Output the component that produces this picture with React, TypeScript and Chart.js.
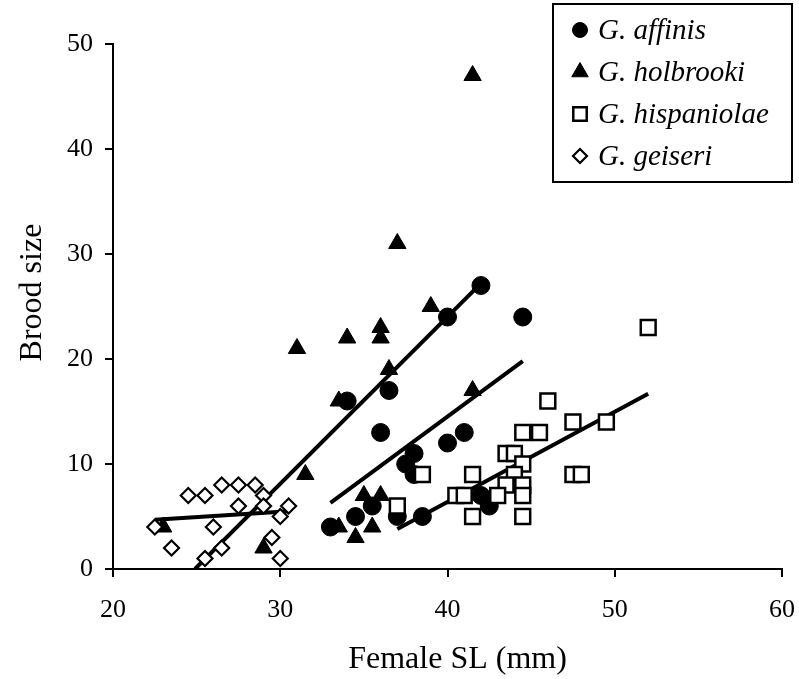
import React, { useEffect, useRef } from 'react';
import { Chart, registerables } from 'chart.js';
import { drawPoint } from 'chart.js/helpers';

Chart.register(...registerables);

// ---- Data ----
const seriesNames = ['G. affinis', 'G. holbrooki', 'G. hispaniolae', 'G. geiseri'];

const affinisSL = [42, 40, 44.5, 36.5, 34, 36, 41, 40, 38, 37.5, 38, 35.5, 34.5, 33, 37, 38.5, 42, 42.5];
const affinisBrood = [27, 24, 24, 17, 16, 13, 13, 12, 11, 10, 9, 6, 5, 4, 5, 5, 7, 6];

const holbrookiSL = [41.5, 37, 39, 36, 36, 34, 31, 36.5, 33.5, 41.5, 31.5, 35, 36, 33.5, 34.5, 35.5, 29, 23];
const holbrookiBrood = [47, 31, 25, 23, 22, 22, 21, 19, 16, 17, 9, 7, 7, 4, 3, 4, 2, 4];

const hispaniolaeSL = [52, 46, 47.5, 49.5, 44.5, 45.5, 43.5, 44, 44.5, 44, 41.5, 47.5, 48, 38.5, 44.5, 43.5, 44.5, 43, 40.5, 41, 37, 41.5, 44.5];
const hispaniolaeBrood = [23, 16, 14, 14, 13, 13, 11, 11, 10, 9, 9, 9, 9, 9, 8, 8, 7, 7, 7, 7, 6, 5, 5];

const geiseriSL = [22.5, 23.5, 24.5, 25.5, 26, 25.5, 26.5, 26.5, 27.5, 27.5, 28.5, 29, 29, 29.5, 30, 30, 30.5];
const geiseriBrood = [4, 2, 7, 7, 4, 1, 8, 2, 8, 6, 8, 7, 6, 3, 5, 1, 6];

// Regression line end points
const affinisFitSL = [33, 44.5];
const affinisFitBrood = [6.3, 19.8];
const holbrookiFitSL = [24.9, 42];
const holbrookiFitBrood = [0, 27.2];
const hispaniolaeFitSL = [37, 52];
const hispaniolaeFitBrood = [3.8, 16.7];
const geiseriFitSL = [22.5, 30.5];
const geiseriFitBrood = [4.7, 5.5];

const xTicks = [20, 30, 40, 50, 60];
const yTicks = [0, 10, 20, 30, 40, 50];

const xTitle = 'Female SL (mm)';
const yTitle = 'Brood size';

const SERIF = "'Liberation Serif', 'Times New Roman', Times, serif";

const pts = (xs: number[], ys: number[]) => xs.map((x, i) => ({ x, y: ys[i] }));

const markerStyles = [
  { pointStyle: 'circle', radius: 9, legendRadius: 7.5, fill: '#000', border: 1 },
  { pointStyle: 'triangle', radius: 10, legendRadius: 9.5, fill: '#000', border: 1 },
  { pointStyle: 'rect', radius: 10.5, legendRadius: 9.5, fill: '#fff', border: 2.5 },
  { pointStyle: 'rectRot', radius: 7.5, legendRadius: 7, fill: '#fff', border: 2.2 },
];

const boxLegend = {
  id: 'boxLegend',
  afterDraw(chart: any) {
    const ctx = chart.ctx as CanvasRenderingContext2D;
    ctx.save();
    const bx = 553, by = 4, bw = 239, bh = 178;
    ctx.fillStyle = '#fff';
    ctx.fillRect(bx, by, bw, bh);
    ctx.strokeStyle = '#000';
    ctx.lineWidth = 2;
    ctx.strokeRect(bx, by, bw, bh);
    const rowY = [30, 72, 114, 156];
    seriesNames.forEach((name, i) => {
      const s = markerStyles[i];
      ctx.fillStyle = s.fill;
      ctx.strokeStyle = '#000';
      ctx.lineWidth = s.border;
      drawPoint(ctx, { pointStyle: s.pointStyle as any, radius: s.legendRadius, rotation: 0, borderWidth: s.border }, 580, rowY[i]);
      ctx.fillStyle = '#000';
      ctx.font = `italic 29px ${SERIF}`;
      ctx.textBaseline = 'middle';
      ctx.textAlign = 'left';
      ctx.fillText(name, 598, rowY[i] + 1);
    });
    ctx.restore();
  },
};

const axisTitles = {
  id: 'axisTitles',
  afterDraw(chart: any) {
    const ctx = chart.ctx as CanvasRenderingContext2D;
    const area = chart.chartArea;
    ctx.save();
    ctx.fillStyle = '#000';
    ctx.font = `32px ${SERIF}`;
    ctx.textAlign = 'center';
    ctx.textBaseline = 'alphabetic';
    ctx.fillText(xTitle, (area.left + area.right) / 2 + 10, area.bottom + 99);
    ctx.translate(41, (area.top + area.bottom) / 2 - 14);
    ctx.rotate(-Math.PI / 2);
    ctx.fillText(yTitle, 0, 0);
    ctx.restore();
  },
};

const scatterSet = (label: string, xs: number[], ys: number[], i: number) => {
  const s = markerStyles[i];
  return {
    type: 'scatter' as const,
    label,
    data: pts(xs, ys),
    pointStyle: s.pointStyle,
    pointRadius: s.radius,
    pointBackgroundColor: s.fill,
    pointBorderColor: '#000',
    pointBorderWidth: s.border,
    showLine: false,
    clip: false as any,
  };
};

const fitSet = (label: string, xs: number[], ys: number[]) => ({
  type: 'line' as const,
  label,
  data: pts(xs, ys),
  borderColor: '#000',
  borderWidth: 4,
  pointRadius: 0,
  showLine: true,
  fill: false,
  borderCapStyle: 'butt' as const,
});

export default function App() {
  const ref = useRef<HTMLCanvasElement | null>(null);

  useEffect(() => {
    document.body.style.margin = '0';
    if (!ref.current) return;
    const chart = new Chart(ref.current, {
      type: 'scatter',
      data: {
        datasets: [
          scatterSet(seriesNames[3], geiseriSL, geiseriBrood, 3),
          scatterSet(seriesNames[2], hispaniolaeSL, hispaniolaeBrood, 2),
          scatterSet(seriesNames[1], holbrookiSL, holbrookiBrood, 1),
          scatterSet(seriesNames[0], affinisSL, affinisBrood, 0),
          fitSet('fit holbrooki', holbrookiFitSL, holbrookiFitBrood),
          fitSet('fit affinis', affinisFitSL, affinisFitBrood),
          fitSet('fit hispaniolae', hispaniolaeFitSL, hispaniolaeFitBrood),
          fitSet('fit geiseri', geiseriFitSL, geiseriFitBrood),
        ] as any,
      },
      options: {
        animation: false,
        responsive: false,
        maintainAspectRatio: false,
        layout: { padding: { top: 44, right: 17, left: 0, bottom: 0 } },
        plugins: {
          legend: { display: false },
          tooltip: { enabled: false },
        },
        scales: {
          x: {
            type: 'linear',
            min: 20,
            max: 60,
            afterBuildTicks: (scale: any) => {
              scale.ticks = xTicks.map((v) => ({ value: v }));
            },
            afterFit: (scale: any) => {
              scale.height = 110;
              scale.paddingLeft = 0;
              scale.paddingRight = 0;
            },
            ticks: {
              color: '#000',
              font: { family: SERIF, size: 26 },
              padding: 18,
              maxRotation: 0,
            },
            grid: {
              drawOnChartArea: false,
              drawTicks: true,
              tickLength: 8,
              color: '#000',
              lineWidth: 2,
            },
            border: { color: '#000', width: 2 },
            title: { display: false, text: xTitle },
          },
          y: {
            type: 'linear',
            min: 0,
            max: 50,
            afterBuildTicks: (scale: any) => {
              scale.ticks = yTicks.map((v) => ({ value: v }));
            },
            afterFit: (scale: any) => {
              scale.width = 113;
              scale.paddingTop = 0;
              scale.paddingBottom = 0;
            },
            ticks: {
              color: '#000',
              font: { family: SERIF, size: 26 },
              padding: 12,
            },
            grid: {
              drawOnChartArea: false,
              drawTicks: true,
              tickLength: 8,
              color: '#000',
              lineWidth: 2,
            },
            border: { color: '#000', width: 2 },
            title: { display: false, text: yTitle },
          },
        },
      } as any,
      plugins: [axisTitles, boxLegend],
    });
    return () => chart.destroy();
  }, []);

  return (
    <div style={{ width: 799, height: 679 }}>
      <canvas ref={ref} width={799} height={679} style={{ display: 'block', width: 799, height: 679 }} />
    </div>
  );
}
